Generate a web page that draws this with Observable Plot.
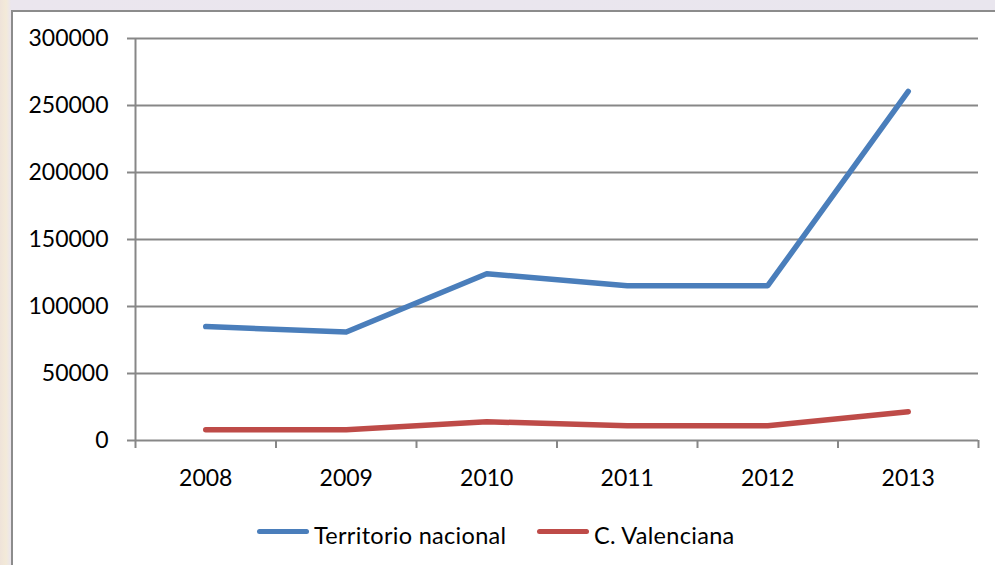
<!DOCTYPE html>
<html>
<head>
<meta charset="utf-8">
<script src="https://cdn.jsdelivr.net/npm/d3@7"></script>
<script src="https://cdn.jsdelivr.net/npm/@observablehq/plot@0.6"></script>
<style>
  html, body { margin: 0; padding: 0; width: 995px; height: 565px; overflow: hidden; }
  body { background: linear-gradient(90deg, #efe3da 0px, #f3ead8 6px, #ebe6ee 11px, #e9e6ee 100%); position: relative; font-family: Lato, "Open Sans", sans-serif; }
  #frame { position: absolute; left: 11px; top: 10px; width: 1000px; height: 600px; background: #fff; border: 2px solid #8c8c8c; box-sizing: border-box; }
  #chart { position: absolute; left: 0; top: 0; }
  #legend { position: absolute; left: 0; top: 500px; width: 995px; height: 65px; font-size: 23.5px; color: #000; }
  .item { position: absolute; top: 17px; display: flex; align-items: center; white-space: nowrap; }
  .swatch { width: 52px; height: 5px; border-radius: 3px; margin-right: 5px; }
  .item span { position: relative; top: 4px; letter-spacing: 0.3px; }
</style>
</head>
<body>
<div id="frame"></div>
<div id="chart"></div>
<div id="legend"></div>
<script>
const years = [2008, 2009, 2010, 2011, 2012, 2013];
const nacional = [85000, 81000, 124500, 115500, 115500, 260500];
const valenciana = [8000, 8000, 14000, 11000, 11000, 21500];
const yTicks = [0, 50000, 100000, 150000, 200000, 250000, 300000];
const seriesNames = ["Territorio nacional", "C. Valenciana"];
const seriesColors = ["#4a7ebb", "#be4b48"];

const rows = [];
years.forEach((y, i) => {
  rows.push({year: y, value: nacional[i], series: seriesNames[0]});
  rows.push({year: y, value: valenciana[i], series: seriesNames[1]});
});
const bounds = years.map(y => y - 0.5).concat([years[years.length - 1] + 0.5]);

const plot = Plot.plot({
  width: 995,
  height: 500,
  marginLeft: 135,
  marginRight: 17,
  marginTop: 38,
  marginBottom: 60,
  x: {domain: [bounds[0], bounds[bounds.length - 1]]},
  y: {domain: [0, 300000]},
  color: {domain: seriesNames, range: seriesColors},
  style: {fontFamily: "Lato, 'Open Sans', sans-serif", fontSize: "23px", color: "#000", background: "transparent", overflow: "visible"},
  marks: [
    Plot.ruleY(yTicks, {stroke: "#878787", strokeWidth: 2}),
    Plot.ruleX([bounds[0]], {stroke: "#878787", strokeWidth: 2}),
    Plot.axisY({ticks: yTicks, tickSize: 8, tickPadding: 19, tickFormat: d => String(d), stroke: "#878787", strokeWidth: 2, strokeOpacity: 1, fill: "#000", label: null}),
    Plot.axisX({ticks: bounds, tickSize: 8, tickFormat: () => "", stroke: "#878787", strokeWidth: 2, strokeOpacity: 1, label: null}),
    Plot.axisX({ticks: years, tickSize: 0, tickPadding: 29, tickFormat: d => String(d), fill: "#000", label: null}),
    Plot.line(rows, {x: "year", y: "value", z: "series", stroke: "series", strokeWidth: 5.5, strokeLinecap: "round", strokeLinejoin: "round"})
  ]
});
document.getElementById("chart").appendChild(plot);

const legend = document.getElementById("legend");
const lefts = [257, 537];
seriesNames.forEach((name, i) => {
  const item = document.createElement("div");
  item.className = "item";
  item.style.left = lefts[i] + "px";
  const sw = document.createElement("div");
  sw.className = "swatch";
  sw.style.background = seriesColors[i];
  const t = document.createElement("span");
  t.textContent = name;
  item.appendChild(sw);
  item.appendChild(t);
  legend.appendChild(item);
});
</script>
</body>
</html>
